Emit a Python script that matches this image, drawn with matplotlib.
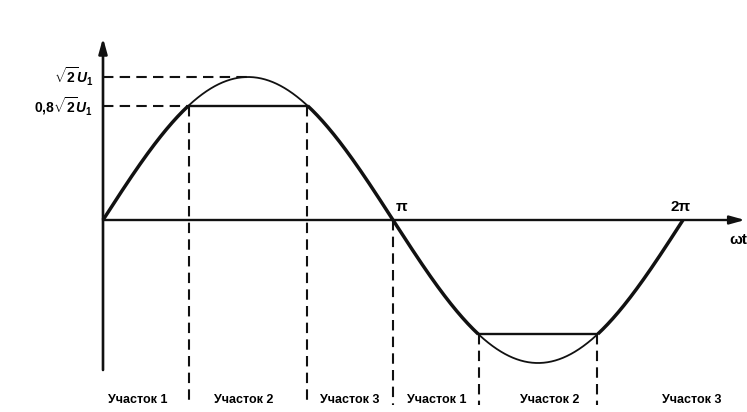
import numpy as np
import matplotlib.pyplot as plt

plt.rcParams['font.family'] = ['Liberation Sans', 'DejaVu Sans']
plt.rcParams['mathtext.fontset'] = 'custom'
plt.rcParams['mathtext.rm'] = 'Liberation Sans:bold'
plt.rcParams['mathtext.it'] = 'Liberation Sans:bold:italic'
plt.rcParams['mathtext.bf'] = 'Liberation Sans:bold'

# clipping level (fraction of amplitude) and the wave itself
AMPLITUDE = 1.0
CLIP_LEVEL = 0.8
SECTION_LABELS = ['Участок 1', 'Участок 2', 'Участок 3',
                  'Участок 1', 'Участок 2', 'Участок 3']
SECTION_CENTERS = [0.38, 1.52, 2.67, 3.62, 4.84, 6.38]  # radians
Y_TICK_LABELS = [r'$\sqrt{2}U_1$', r'$0{,}8\sqrt{2}U_1$']

K = '#111111'

fig = plt.figure(figsize=(7.47, 4.12), dpi=100)
ax = fig.add_axes([0, 0, 1, 1])
ax.set_xlim(-103 * np.pi / 290, 644 * np.pi / 290)
ax.set_ylim(-192 / 143, 220 / 143)
ax.axis('off')

theta = np.linspace(0, 2 * np.pi, 1200)
wave = AMPLITUDE * np.sin(theta)
a = np.arcsin(CLIP_LEVEL)
t1, t2 = a, np.pi - a
t3, t4 = np.pi + a, 2 * np.pi - a
lvl = CLIP_LEVEL * AMPLITUDE

# thin original sine over the clipped parts
for lo, hi in [(t1, t2), (t3, t4)]:
    m = (theta >= lo) & (theta <= hi)
    ax.plot(theta[m], wave[m], color=K, lw=1.3, zorder=3)

# thick clipped waveform
for lo, hi in [(0, t1), (t2, t3), (t4, 2 * np.pi)]:
    m = (theta >= lo) & (theta <= hi)
    ax.plot(theta[m], wave[m], color=K, lw=2.5, zorder=4, solid_capstyle='butt')
ax.plot([t1, t2], [lvl, lvl], color=K, lw=1.7, zorder=4)
ax.plot([t3, t4], [-lvl, -lvl], color=K, lw=1.7, zorder=4)

# axes with arrows
y_bot = -150 / 143
ax.annotate('', xy=(0, 182 / 143), xytext=(0, y_bot),
            arrowprops=dict(arrowstyle='-|>,head_length=0.9,head_width=0.25',
                            color=K, lw=1.9, shrinkA=0, shrinkB=0))
ax.annotate('', xy=(642 * np.pi / 290, 0), xytext=(0, 0),
            arrowprops=dict(arrowstyle='-|>,head_length=0.9,head_width=0.25',
                            color=K, lw=1.7, shrinkA=0, shrinkB=0))

# dashed helper lines
dash = dict(color=K, lw=1.5, ls=(0, (5, 3)), zorder=2)
ax.plot([0, np.pi / 2], [AMPLITUDE, AMPLITUDE], **dash)
ax.plot([0, t1], [lvl, lvl], **dash)
y_end = -185 / 143
for t, y0 in [(t1, lvl), (t2, lvl), (np.pi, 0), (t3, -lvl), (t4, -lvl)]:
    ax.plot([t, t], [y0, y_end], **dash)

# level labels
ax.text(-10 * np.pi / 290, AMPLITUDE, Y_TICK_LABELS[0], ha='right', va='center',
        fontsize=10, fontweight='bold')
ax.text(-10 * np.pi / 290, lvl, Y_TICK_LABELS[1], ha='right', va='center',
        fontsize=10, fontweight='bold')

# pi marks and axis name
ax.text(np.pi + 0.09, 0.04, 'π', ha='center', va='bottom', fontsize=11,
        fontweight='bold')
ax.text(2 * np.pi - 0.03, 0.04, '2π', ha='center', va='bottom', fontsize=11,
        fontweight='bold')
ax.text(626 * np.pi / 290, -0.09, 'ωt', ha='left', va='top', fontsize=11,
        fontweight='bold')

# section labels
for x, s in zip(SECTION_CENTERS, SECTION_LABELS):
    ax.text(x, -180 / 143, s, ha='center', va='center', fontsize=9,
            fontweight='bold')

fig.savefig('out.png', dpi=100, facecolor='white')
